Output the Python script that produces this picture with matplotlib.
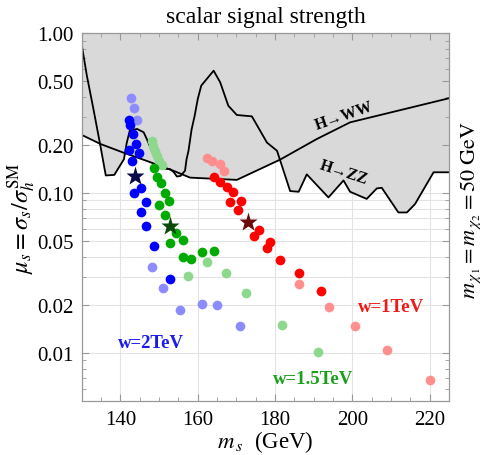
import numpy as np
import matplotlib
matplotlib.use("Agg")
import matplotlib.pyplot as plt
from matplotlib.ticker import FixedLocator, FixedFormatter, NullFormatter, MultipleLocator, LogLocator

plt.rcParams['font.family'] = ['Liberation Serif', 'DejaVu Serif']
plt.rcParams['mathtext.fontset'] = 'stix'

# exclusion curves (m_s in GeV, mu_s)
zz_m = [130.0, 131.3, 133.0, 134.8, 136.2, 138.4, 140.9, 141.6, 142.4, 144.3, 146.0, 146.8,
        149.8, 150.7, 152.9, 153.8, 154.6, 155.5, 156.7, 157.1, 157.6, 158.4, 159.2, 160.0,
        160.9, 164.1, 165.8, 167.9, 170.1, 174.0, 177.9, 180.5, 183.9, 186.1, 188.2, 193.8,
        197.7, 199.4, 203.7, 206.3, 207.6, 211.9, 214.1, 216.2, 221.0, 225.0]
zz_mu = [0.84, 0.543, 0.336, 0.198, 0.129, 0.130, 0.163, 0.205, 0.246, 0.252, 0.240, 0.218,
         0.148, 0.143, 0.141, 0.135, 0.127, 0.128, 0.138, 0.163, 0.184, 0.25, 0.305, 0.388,
         0.47, 0.583, 0.493, 0.352, 0.308, 0.302, 0.207, 0.184, 0.103, 0.102, 0.131, 0.094,
         0.120, 0.102, 0.092, 0.107, 0.108, 0.0757, 0.0757, 0.0854, 0.135, 0.135]
ww_m = [130.0, 134.8, 140.8, 146.8, 153.7, 158.0, 170.1, 181.3, 190.8, 199.4, 225.0]
ww_mu = [0.231, 0.203, 0.179, 0.159, 0.138, 0.125, 0.121, 0.162, 0.218, 0.277, 0.392]

# benchmark points, w = 2 TeV
b_m = [142.1, 142.5, 143.2, 143.9, 142.3, 144.8, 143.1, 145.3, 143.6, 146.5, 145.3, 146.6, 148.6, 152.9]
b_mu = [0.288, 0.268, 0.233, 0.202, 0.185, 0.178, 0.159, 0.107, 0.100, 0.0874, 0.0764, 0.0624, 0.0464, 0.0292]
bl_m = [142.6, 143.4, 144.4, 148.2, 151.0, 155.3, 161.1, 164.9, 171.0]
bl_mu = [0.394, 0.342, 0.285, 0.0346, 0.0254, 0.0186, 0.0203, 0.0199, 0.0147]
b_star = (143.8, 0.128)

# w = 1.5 TeV
g_m = [148.6, 149.5, 150.4, 151.5, 152.5, 149.9, 151.6, 154.4, 156.3, 152.7, 156.1, 158.3, 161.1, 164.3]
g_mu = [0.143, 0.127, 0.115, 0.100, 0.0895, 0.0841, 0.0728, 0.0567, 0.0508, 0.0486, 0.0399, 0.0386, 0.0429, 0.0435]
gl_m = [148.1, 148.5, 149.0, 149.4, 150.0, 150.7, 162.5, 157.6, 167.3, 172.6, 181.9, 191.2]
gl_mu = [0.213, 0.198, 0.184, 0.171, 0.159, 0.150, 0.0371, 0.0303, 0.0316, 0.0237, 0.0149, 0.0101]
g_star = (152.9, 0.0624)

# w = 1 TeV
r_m = [164.3, 165.8, 167.5, 169.0, 168.4, 171.1, 170.4, 175.9, 174.6, 178.7, 178.0, 181.3, 186.1, 191.8]
r_mu = [0.127, 0.118, 0.110, 0.101, 0.0874, 0.0887, 0.0785, 0.0586, 0.0540, 0.0498, 0.0453, 0.0382, 0.0316, 0.0246]
rl_m = [162.4, 163.7, 165.8, 166.9, 186.3, 193.9, 200.8, 208.9, 220.2]
rl_mu = [0.165, 0.159, 0.152, 0.138, 0.0272, 0.0195, 0.0147, 0.0104, 0.0068]
r_star = (173.0, 0.0656)

fig = plt.figure(figsize=(4.87, 4.56), dpi=100)
ax = fig.add_axes([0.168, 0.118, 0.754, 0.807])
ax.set_yscale('log')
ax.set_xlim(130, 225)
ax.set_ylim(0.005, 1.0)

# grid
for xv in [140, 160, 180, 200, 220]:
    ax.axvline(xv, color='#e3e3e3', lw=0.8, zorder=0)
for yv in [0.01, 0.02, 0.03, 0.04, 0.05, 0.06, 0.07, 0.08, 0.09, 0.1, 0.2, 0.5]:
    ax.axhline(yv, color='#e3e3e3', lw=0.8, zorder=0)

# excluded region = union above both curves
ax.fill_between(zz_m, zz_mu, 1.0, color='#d9d9d9', lw=0, zorder=1)
ax.fill_between(ww_m, ww_mu, 1.0, color='#d9d9d9', lw=0, zorder=1)
ax.plot(zz_m, zz_mu, color='black', lw=1.3, zorder=2)
ax.plot(ww_m, ww_mu, color='black', lw=1.3, zorder=2)

ax.text(197.9, 0.305, 'H→WW', rotation=19, ha='center', va='center', fontsize=11.5,
        fontweight='bold', zorder=3)
ax.text(197.7, 0.136, 'H→ZZ', rotation=-18, ha='center', va='center', fontsize=11.5,
        fontweight='bold', zorder=3)

ms = 7
ax.plot(bl_m, bl_mu, 'o', color='#8c8cff', ms=ms, mec='none', zorder=4)
ax.plot(gl_m, gl_mu, 'o', color='#8ed88e', ms=ms, mec='none', zorder=4)
ax.plot(rl_m, rl_mu, 'o', color='#ff8f8f', ms=ms, mec='none', zorder=4)
ax.plot(b_m, b_mu, 'o', color='#0000ff', ms=ms, mec='none', zorder=5)
ax.plot(g_m, g_mu, 'o', color='#00aa00', ms=ms, mec='none', zorder=5)
ax.plot(r_m, r_mu, 'o', color='#ff0000', ms=ms, mec='none', zorder=5)
ax.plot(*b_star, '*', color='#0a0a4a', ms=14, mec='none', zorder=6)
ax.plot(*g_star, '*', color='#0a4a0a', ms=14, mec='none', zorder=6)
ax.plot(*r_star, '*', color='#6a0a0a', ms=14, mec='none', zorder=6)

ax.text(147.9, 0.0117, 'w=2TeV', color='#1a1aee', fontsize=13.5, fontweight='bold',
        ha='center', va='center')
ax.text(189.9, 0.00691, 'w=1.5TeV', color='#1aa01a', fontsize=13.5, fontweight='bold',
        ha='center', va='center')
ax.text(209.9, 0.0195, 'w=1TeV', color='#ee1a1a', fontsize=13.5, fontweight='bold',
        ha='center', va='center')

# ticks and frame
ax.xaxis.set_major_locator(FixedLocator([140, 160, 180, 200, 220]))
ax.xaxis.set_minor_locator(MultipleLocator(5))
yt = [0.01, 0.02, 0.05, 0.1, 0.2, 0.5, 1.0]
ax.yaxis.set_major_locator(FixedLocator(yt))
ax.yaxis.set_major_formatter(FixedFormatter(['0.01', '0.02', '0.05', '0.10', '0.20', '0.50', '1.00']))
ax.yaxis.set_minor_locator(LogLocator(base=10, subs=np.arange(2, 10) * 1.0))
ax.yaxis.set_minor_formatter(NullFormatter())
ax.tick_params(which='both', direction='in', top=True, right=True, color='#999999',
               labelsize=15, pad=6)
ax.tick_params(which='major', length=5)
ax.tick_params(which='minor', length=3)
for sp in ax.spines.values():
    sp.set_color('#999999')
    sp.set_linewidth(0.9)

ax.set_title('scalar signal strength', fontsize=17, pad=8)
ax.set_xlabel(r'$m_{\,s}$  (GeV)', fontsize=16.5, labelpad=0)
ax.set_ylabel(r'$\mu_s = \sigma_s/\sigma_h^{\rm SM}$', fontsize=17.5)
ax.yaxis.set_label_coords(-0.118, 0.5)
fig.text(0.966, 0.539, r'$m_{\,\chi_1} = m_{\,\chi_2} = 50\;\rm GeV$', rotation=90,
         ha='center', va='center', fontsize=16)

fig.savefig('out.png', dpi=100)
